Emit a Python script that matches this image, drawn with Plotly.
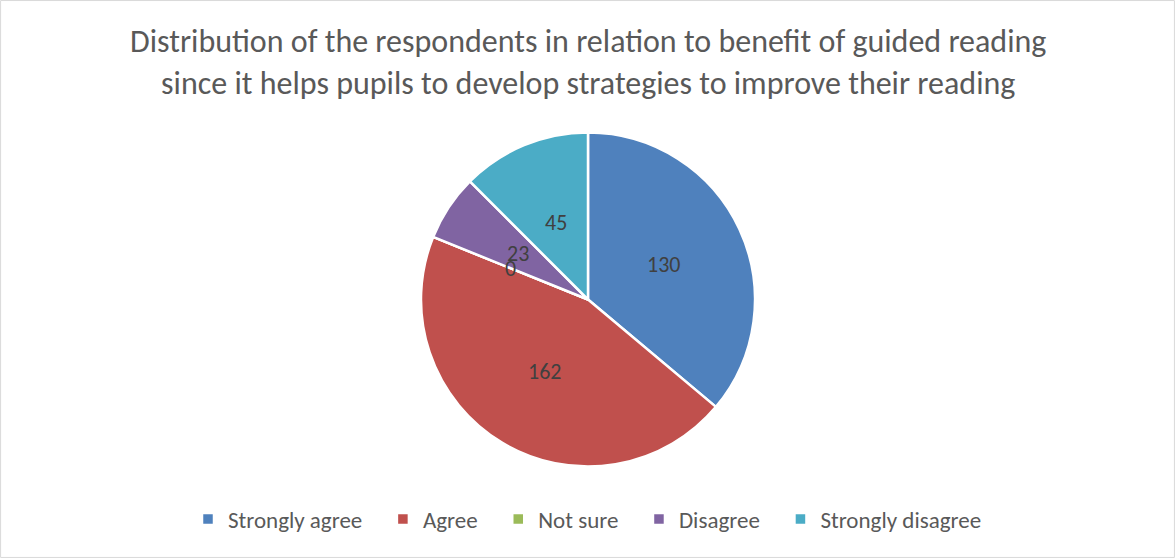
import math
import plotly.graph_objects as go

# Survey responses
categories = ["Strongly agree", "Agree", "Not sure", "Disagree", "Strongly disagree"]
counts = [130, 162, 0, 23, 45]
colors = ["#4F81BD", "#C0504D", "#9BBB59", "#8064A2", "#4BACC6"]
title_lines = [
    "Distribution of the respondents in relation to benefit of guided reading",
    "since it helps pupils to develop strategies to improve their reading",
]

W, H = 1175, 558
FONT = "Liberation Sans Narrow, Carlito, Calibri, Lato, sans-serif"

# Pie placement (paper coordinates)
cx, cy, R = 588 / W, 1 - 299.5 / H, 167
dom_x = [(588 - R) / W, (588 + R) / W]
dom_y = [1 - (299.5 + R) / H, 1 - (299.5 - R) / H]

# Legend entries get a little trailing padding so the items spread out
legend_names = [c + "\u00a0" * 3 for c in categories[:-1]] + [categories[-1]]

fig = go.Figure(
    go.Pie(
        labels=legend_names,
        values=counts,
        sort=False,
        direction="clockwise",
        rotation=0,
        marker=dict(colors=colors, line=dict(color="white", width=2.5)),
        textinfo="none",
        hoverinfo="label+value",
        domain=dict(x=dom_x, y=dom_y),
        showlegend=True,
    )
)

# Value labels at half the radius along each slice's middle angle
total = sum(counts)
cum = 0
for v in counts:
    mid = (cum + v / 2) / total * 2 * math.pi
    cum += v
    r = 0.5 * R
    fig.add_annotation(
        x=cx + r * math.sin(mid) / W,
        y=cy + r * math.cos(mid) / H,
        xref="paper", yref="paper",
        text=str(v), showarrow=False,
        font=dict(family=FONT, size=22, color="#404040"),
    )

# Two-line chart title
fig.add_annotation(
    x=0.5, y=1 - 62 / H, xref="paper", yref="paper",
    xanchor="center", yanchor="middle",
    text="<br>".join(title_lines), showarrow=False,
    font=dict(family=FONT, size=32, color="#595959"),
)

fig.add_shape(type="rect", xref="paper", yref="paper", x0=0.0005, y0=0.001, x1=0.9995, y1=0.999,
              line=dict(color="#D9D9D9", width=1))

fig.update_layout(
    width=W, height=H,
    margin=dict(l=0, r=0, t=0, b=0),
    paper_bgcolor="white",
    plot_bgcolor="white",
    legend=dict(
        orientation="h", x=0.5, xanchor="center", y=1 - 519 / H, yanchor="middle",
        font=dict(family=FONT, size=23, color="#595959"),
        itemwidth=30, traceorder="normal",
    ),
)

fig.write_html("out.html")
